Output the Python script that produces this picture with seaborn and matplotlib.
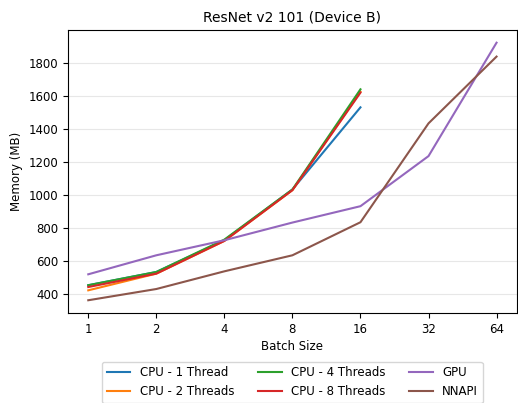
import seaborn as sns
import matplotlib.pyplot as plt
import pandas as pd

batch_sizes = [1, 2, 4, 8, 16, 32, 64]
cpu_batches = [1, 2, 4, 8, 16]

cpu_1_thread = [453, 533, 725, 1032, 1529]
cpu_2_threads = [422, 523, 721, 1028, 1624]
cpu_4_threads = [453, 533, 729, 1032, 1638]
cpu_8_threads = [442, 523, 721, 1028, 1618]
gpu = [519, 634, 725, 832, 931, 1234, 1920]
nnapi = [362, 430, 537, 634, 834, 1432, 1836]

series = [
    ("CPU - 1 Thread", cpu_batches, cpu_1_thread),
    ("CPU - 2 Threads", cpu_batches, cpu_2_threads),
    ("CPU - 4 Threads", cpu_batches, cpu_4_threads),
    ("CPU - 8 Threads", cpu_batches, cpu_8_threads),
    ("GPU", batch_sizes, gpu),
    ("NNAPI", batch_sizes, nnapi),
]

rows = []
for name, xs, ys in series:
    for x, y in zip(xs, ys):
        rows.append({"Batch Size": x, "Memory (MB)": y, "Delegate": name})
df = pd.DataFrame(rows)

plt.rcParams["font.size"] = 8.5

fig, ax = plt.subplots(figsize=(5.18, 4.03), dpi=100)
sns.lineplot(data=df, x="Batch Size", y="Memory (MB)", hue="Delegate",
             palette="tab10", ax=ax)

ax.set_xscale("log", base=2)
ax.set_xticks(batch_sizes)
ax.set_xticklabels([str(b) for b in batch_sizes])
ax.minorticks_off()
ax.tick_params(labelsize=8.5)
ax.grid(axis="y", alpha=0.3)
ax.set_title("ResNet v2 101 (Device B)", fontsize=10)
ax.set_xlabel("Batch Size", fontsize=8.5, labelpad=3)
ax.set_ylabel("Memory (MB)", fontsize=8.5)
ax.legend(loc="upper center", bbox_to_anchor=(0.5, -0.15), ncol=3, fontsize=8.5)

fig.subplots_adjust(left=0.131, right=0.998, top=0.926, bottom=0.223)
fig.savefig("out.png", dpi=100)
